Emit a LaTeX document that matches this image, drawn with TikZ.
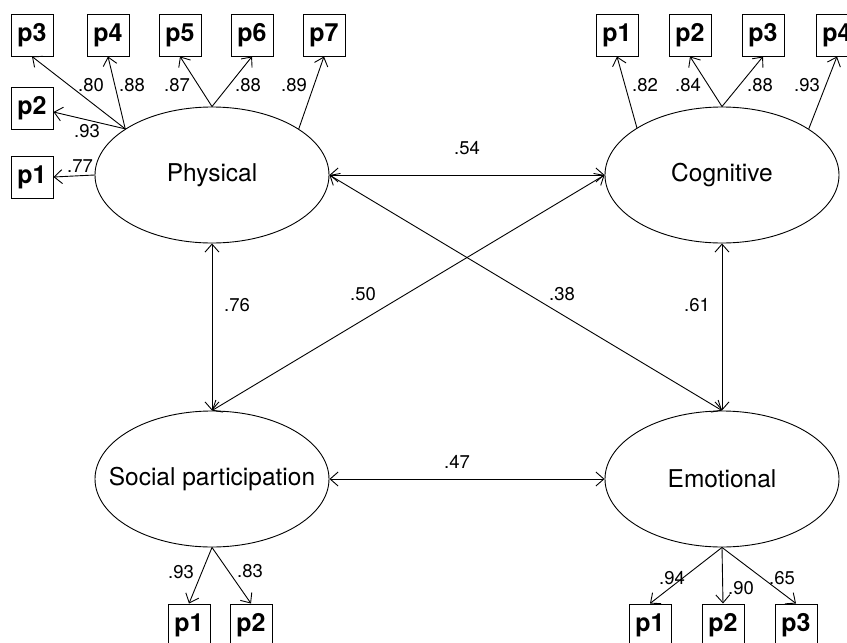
\documentclass[tikz,border=0pt]{standalone}
\usepackage{fontspec}
\setmainfont{TeX Gyre Heros}
\usetikzlibrary{shapes.geometric,arrows.meta}

\tikzset{
  latent/.style={draw,ellipse,line width=0.9pt,inner sep=0pt,minimum width=234pt,minimum height=136pt,font=\fontsize{24.5}{26}\selectfont},
  indic/.style={draw,rectangle,line width=1pt,inner sep=0pt,minimum size=42pt,font=\bfseries\fontsize{25}{27}\selectfont},
  coef/.style={inner sep=0pt,font=\fontsize{18.5}{20}\selectfont},
  load/.style={line width=0.9pt,-{Straight Barb[length=8pt,width=14pt,line width=0.9pt]}},
  corr/.style={line width=0.9pt,{Straight Barb[length=8pt,width=14pt,line width=0.9pt]}-{Straight Barb[length=8pt,width=14pt,line width=0.9pt]}}
}

\begin{document}
\begin{tikzpicture}[x=1pt,y=-1pt]
\useasboundingbox[fill=white] (0,0) rectangle (847,643);
% Drawing latent factors
\node[latent] (phys) at (212,175) {Physical};
\node[latent] (cogn) at (722,175) {Cognitive};
\node[latent] (soc) at (212,479) {\makebox[0pt]{Social participation}};
\node[latent] (emo) at (722,479) {Emotional};
% Drawing indicators: Physical
\node[indic] (pp3) at (32,35) {p3};
\node[indic] (pp4) at (108,35) {p4};
\node[indic] (pp5) at (180,35) {p5};
\node[indic] (pp6) at (252,35) {p6};
\node[indic] (pp7) at (324,35) {p7};
\node[indic] (pp2) at (32,108) {p2};
\node[indic] (pp1) at (32,177) {p1};
% Drawing indicators: Cognitive
\node[indic] (cp1) at (617,35) {p1};
\node[indic] (cp2) at (690,35) {p2};
\node[indic] (cp3) at (763,35) {p3};
\node[indic] (cp4) at (837,35) {p4};
% Drawing indicators: Social participation
\node[indic] (sp1) at (189,625) {p1};
\node[indic] (sp2) at (251,625) {p2};
% Drawing indicators: Emotional
\node[indic] (ep1) at (650,625) {p1};
\node[indic] (ep2) at (723,625) {p2};
\node[indic] (ep3) at (796,625) {p3};
% Drawing loadings
\draw[load] (phys.152) -- (pp3.south);
\draw[load] (phys.152) -- (pp4.south);
\draw[load] (phys.152) -- ([yshift=-4pt]pp2.east);
\draw[load] (phys.north) -- (pp5.south);
\draw[load] (phys.north) -- (pp6.south);
\draw[load] (phys.28) -- (pp7.south);
\draw[load] (phys.west) -- (pp1.east);
\draw[load] (cogn.151) -- (cp1.south);
\draw[load] (cogn.north) -- (cp2.south);
\draw[load] (cogn.north) -- (cp3.south);
\draw[load] (cogn.28) -- (cp4.south);
\draw[load] (soc.south) -- (sp1.north);
\draw[load] (soc.south) -- (sp2.north);
\draw[load] (emo.south) -- (ep1.north);
\draw[load] (emo.south) -- (ep2.north);
\draw[load] (emo.south) -- (ep3.north);
% Drawing correlations
\draw[corr] (phys.east) -- (cogn.west);
\draw[corr] (phys.east) -- (emo.north);
\draw[corr] (soc.north) -- (cogn.west);
\draw[corr] (phys.south) -- (soc.north);
\draw[corr] (cogn.south) -- (emo.north);
\draw[corr] (soc.east) -- (emo.west);
% Drawing coefficients
\node[coef] (c1) at (91,85) {.80};
\node[coef] (c2) at (132,85) {.88};
\node[coef] (c3) at (177,85) {.87};
\node[coef] (c4) at (248,85) {.88};
\node[coef] (c5) at (294,85) {.89};
\node[coef] (c6) at (87,131) {.93};
\node[coef] (c7) at (80,166) {.77};
\node[coef] (c8) at (645,85) {.82};
\node[coef] (c9) at (688,85) {.84};
\node[coef] (c10) at (760,85) {.88};
\node[coef] (c11) at (807,85) {.93};
\node[coef] (c12) at (181,572) {.93};
\node[coef] (c13) at (250,571) {.83};
\node[coef] (c14) at (672,578) {.94};
\node[coef] (c15) at (741,588) {.90};
\node[coef] (c16) at (782,578) {.65};
\node[coef] (c17) at (467,148) {.54};
\node[coef] (c18) at (363,294) {.50};
\node[coef] (c19) at (562,294) {.38};
\node[coef] (c20) at (237,305) {.76};
\node[coef] (c21) at (697,305) {.61};
\node[coef] (c22) at (457,462) {.47};
% Done with coefficients
\end{tikzpicture}
\end{document}
